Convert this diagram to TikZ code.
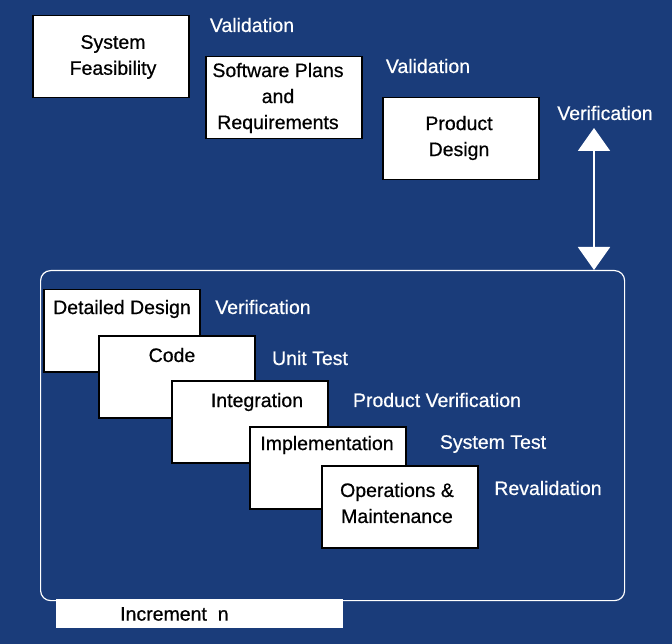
\documentclass[tikz,border=0pt]{standalone}
\usepackage{fontspec}
\setmainfont{Liberation Sans}[FakeBold=0.6]
\usetikzlibrary{arrows.meta}
\definecolor{navy}{RGB}{26,60,122}
\begin{document}
\begin{tikzpicture}[x=1pt,y=-1pt]
  \tikzstyle{phase}=[draw=black,fill=white,line width=1.5pt,minimum width=156pt,minimum height=82pt,anchor=north west,inner sep=0pt]
  \tikzstyle{txt}=[font=\fontsize{19.5}{26}\selectfont,align=center,inner sep=0pt]
  \tikzstyle{check}=[txt,text=white]
  \tikzstyle{link}=[draw=white,line width=2pt,{Triangle[width=32pt,length=23pt]}-{Triangle[width=32pt,length=23pt]}]
  % background
  \fill[navy] (0,0) rectangle (672,644);
  \useasboundingbox (0,0) rectangle (672,644);
  % upper phases
  \node[phase] (SF) at (32,15) {};
  \node[phase] (SP) at (205,56) {};
  \node[phase] (PD) at (382,97) {};
  \node[txt] (SFtext) at (113,57) {System\\Feasibility};
  \node[txt] (SPtext) at (278,98) {Software Plans\\and\\Requirements};
  \node[txt] (PDtext) at (459,138) {Product\\Design};
  \node[check] (val1) at (252,25) {Validation};
  \node[check] (val2) at (428,66) {Validation};
  \node[check] (ver1) at (605,113) {Verification};
  % increment
  \node[fill=white,anchor=north west,minimum width=287pt,minimum height=29pt,inner sep=0pt] (incbox) at (56,599) {};
  \node[txt,anchor=west] (inctext) at (120,614) {Increment\ \ n};
  \node[draw=white,line width=1.2pt,rounded corners=10pt,minimum width=584pt,minimum height=330pt,anchor=north west,inner sep=0pt] (frame) at (40,270) {};
  % lower phases
  \node[phase] (DD) at (43,289) {};
  \node[phase] (CO) at (98,335) {};
  \node[phase] (IN) at (171,380) {};
  \node[phase] (IM) at (249,426) {};
  \node[phase] (OM) at (321,465) {};
  \node[txt] (DDtext) at (122,309) {Detailed Design};
  \node[txt] (COtext) at (172,355) {Code};
  \node[txt] (INtext) at (257,402) {Integration};
  \node[txt] (IMtext) at (327,445) {Implementation};
  \node[txt] (OMtext) at (397,503) {Operations \&\\Maintenance};
  \node[check] (ver2) at (263,307) {Verification};
  \node[check] (unit) at (310,358) {Unit Test};
  \node[check] (prodver) at (437,400) {Product Verification};
  \node[check] (systest) at (493,444) {System Test};
  \node[check] (reval) at (548,488) {Revalidation};
  % arrow
  \coordinate (vtop) at (594,128);
  \draw[link] (vtop) -- (vtop |- frame.north);
\end{tikzpicture}
\end{document}
